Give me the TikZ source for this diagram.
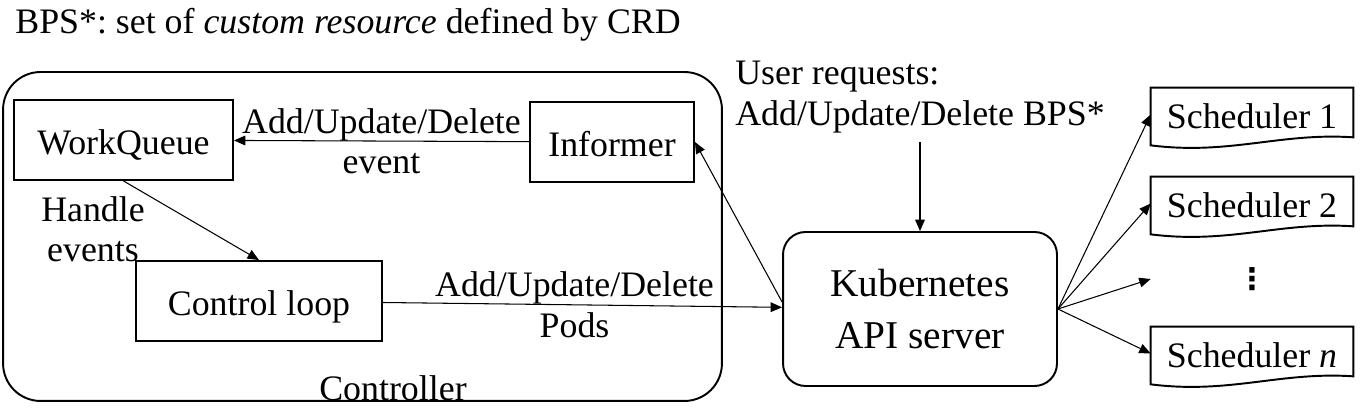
\documentclass[tikz,border=0pt]{standalone}
\usepackage{fontspec}
\setmainfont{Liberation Serif}
\newfontfamily\dotsFamily{DejaVu Sans}
\usepackage{tikz}
\usetikzlibrary{positioning, calc, arrows.meta}
\frenchspacing
\newcommand{\labelFont}{\fontsize{20.4}{23}\selectfont}
\newcommand{\apiFont}{\fontsize{22.4}{29.6}\selectfont}
\newcommand{\dotsFont}{\dotsFamily\bfseries\fontsize{17}{19}\selectfont}
\tikzstyle{diagram} = [x = 0.02cm, y = -0.02cm]
\tikzstyle{boxStyle} = [draw, color=black, line width = 1.1pt, inner sep = 0pt, font = \labelFont, text height = 16.3pt, text depth = 0pt]
\tikzstyle{roundBox} = [draw, color=black, line width = 1.1pt, inner sep = 0pt, rounded corners = .45cm, align = center, font = \apiFont]
\tikzstyle{labelText} = [font = \labelFont, align = center, inner sep = 0pt]
\tikzstyle{schedulerStyle} = [font = \labelFont, inner sep = 0pt, minimum width = 4.04cm, minimum height = 1.06cm, text height = 16.3pt, text depth = 0pt]
\tikzstyle{dotsStyle} = [font = \dotsFont, inner sep = 0pt, minimum width = 4.04cm]
\tikzstyle{docLine} = [color=black, line width = 1.1pt]
\tikzstyle{arrowLine} = [color=black, line width = .6pt, -{Triangle[length = 6.5pt, width = 5.5pt]}]
\newcommand{\documentShape}[1]{\draw [docLine] (#1.north west) -- (#1.north east) -- ($(#1.south east) + (0, -4)$) .. controls ($(#1.south east) + (-73, -9)$) and ($(#1.south west) + (79, 14)$) .. ($(#1.south west) + (0, 4)$) -- cycle;}

\begin{document}
\begin{tikzpicture}[diagram]
        \useasboundingbox (0, 0) rectangle (1369, 411);
        \node [labelText, anchor = base west] (title) at (15, 34) {BPS*: set of \textit{custom resource} defined by CRD};

        \node [boxStyle, rounded corners = .75cm, minimum width = 14.38cm, minimum height = 6.58cm] (controller) at (362.5, 236.5) {};
        \node [labelText] (controllerLabel) at (393, 388) {Controller};
        \node [boxStyle, minimum width = 4.38cm, minimum height = 1.6cm] (workQueue) at (123.5, 140) {WorkQueue};
        \node [boxStyle, minimum width = 3.28cm, minimum height = 1.6cm] (informer) at (612, 142) {Informer};
        \node [boxStyle, minimum width = 4.92cm, minimum height = 1.6cm] (controlLoop) at (259, 301) {Control loop};
        \node [labelText] (handleEvents) at (93, 229) {Handle\\events};

        \node [roundBox, minimum width = 5.48cm, minimum height = 3.08cm] (apiServer) at (920, 309) {Kubernetes\\API server};
        \node [labelText, align = left, anchor = north west] (requests) at (735, 61) {User requests:\\Add/Update/Delete BPS*};

        \node [schedulerStyle] (schedulerOne) at (1252, 114.5) {Scheduler 1};
        \node [schedulerStyle] (schedulerTwo) at (1252, 203.5) {Scheduler 2};
        \node [dotsStyle] (schedulerDots) at (1252, 279) {⋮};
        \node [schedulerStyle] (schedulerN) at (1252, 353.5) {Scheduler \textit{n}};
        \documentShape{schedulerOne}
        \documentShape{schedulerTwo}
        \documentShape{schedulerN}

        \draw [arrowLine] (informer) -- (workQueue) node [labelText, midway] {Add/Update/Delete\\event};
        \draw [arrowLine] (workQueue.south) -- (controlLoop.north);
        \draw [arrowLine] (controlLoop) -- (apiServer) node [labelText, pos = .48] {Add/Update/Delete\\Pods};
        \draw [arrowLine] ([yshift = 4pt]apiServer.west) -- (informer.east);
        \draw [arrowLine] ($(requests.south -| apiServer.north) + (0, 9)$) -- (apiServer.north);
        \draw [arrowLine] (apiServer.east) -- (schedulerOne.west);
        \draw [arrowLine] (apiServer.east) -- (schedulerTwo.west);
        \draw [arrowLine] (apiServer.east) -- (schedulerDots.west);
        \draw [arrowLine] (apiServer.east) -- (schedulerN.west);
      \end{tikzpicture}
\end{document}
